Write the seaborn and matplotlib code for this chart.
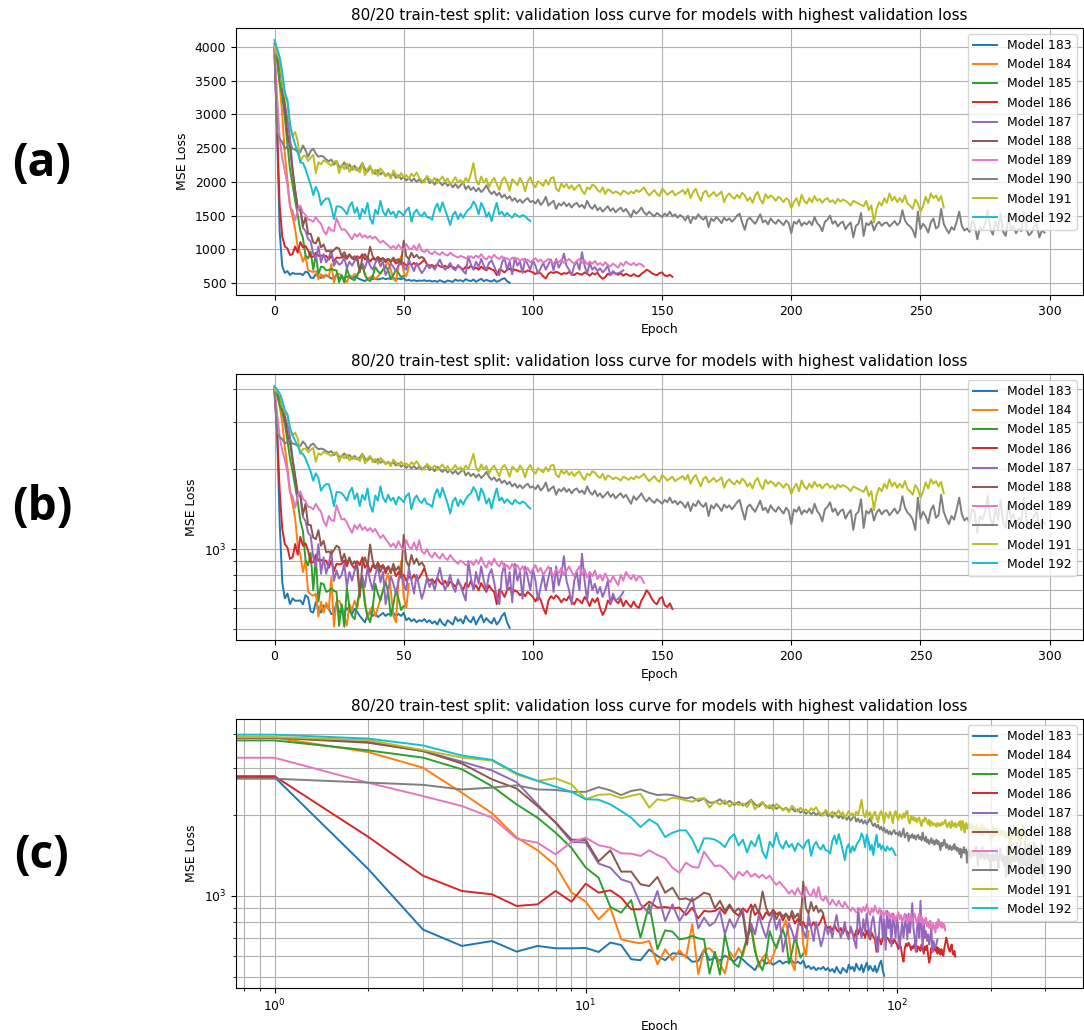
import numpy as np
import pandas as pd
import matplotlib
matplotlib.use("Agg")
import matplotlib.pyplot as plt
from matplotlib.ticker import NullFormatter
import seaborn as sns

# Validation MSE loss per epoch (index = epoch) for the ten worst models
models = ["Model 183", "Model 184", "Model 185", "Model 186", "Model 187",
          "Model 188", "Model 189", "Model 190", "Model 191", "Model 192"]

loss_183 = [3950, 2770, 1260, 750, 652, 680, 621, 652, 639, 639,
            641, 619, 671, 657, 582, 577, 632, 598, 577, 612,
            611, 598, 569, 573, 630, 577,
            590, 575, 600, 585, 570, 595, 580, 560, 545, 530,
            565, 580, 560, 570, 555, 565, 575, 560, 570, 565,
            575, 560, 570, 560, 575, 540, 550, 535, 545, 530,
            540, 535, 545, 530, 540, 525, 535, 520, 545, 525,
            515, 540, 530, 520, 555, 535, 545, 525, 560, 540,
            530, 555, 520, 545, 565, 530, 550, 535, 525, 550,
            520, 535, 560, 575, 530, 505]

loss_184 = [4050, 3880, 3430, 3000, 2420, 2030, 1650, 1480, 1300, 1030,
            953, 819, 905, 690, 676, 667, 680, 557, 634, 577,
            628, 590, 785, 511, 634, 639,
            610, 560, 515, 620, 590, 640, 600, 690, 780, 640,
            545, 590, 610, 560, 600, 650, 700, 760, 810, 700,
            560, 530, 760, 900, 660, 600, 740]

loss_185 = [3950, 3790, 3480, 3270, 2960, 2560, 2190, 1955, 1720, 1510,
            1275, 1170, 910, 867, 966, 700, 931, 634, 745, 737,
            690, 696, 710, 696, 690, 514,
            620, 510, 720, 600, 560, 545, 620, 700, 760, 620,
            560, 530, 600, 740, 680, 640, 700, 750, 690, 560,
            620, 700, 650, 590, 610]

loss_186 = [4000, 2790, 1660, 1190, 1044, 1014, 918, 931, 1044, 952,
            1111, 1029, 1050, 986, 892, 892, 953, 905, 910, 900,
            905, 850, 905, 826, 880, 875,
            880, 905, 860, 920, 870, 845, 900, 870, 930, 850,
            880, 820, 870, 845, 890, 855, 870, 810, 860, 830,
            845, 790, 820, 780, 800, 760, 790, 770, 800, 765,
            780, 810, 850, 780, 760, 770, 745, 780, 750, 735,
            760, 725, 755, 740, 720, 750, 730, 700, 745, 720,
            760, 710, 730, 700, 745, 715, 690, 730, 705, 690,
            620, 705, 690, 660, 700, 715, 680, 700, 690, 670,
            685, 665, 690, 675, 660, 635, 665, 645, 600, 570,
            640, 665, 650, 670, 655, 630, 650, 640, 665, 635,
            620, 650, 640, 625, 660, 640, 610, 650, 630, 655,
            600, 565, 590, 640, 620, 660, 640, 625, 650, 610,
            640, 620, 605, 635, 610, 600, 640, 665, 700, 680,
            650, 630, 620, 650, 660, 615, 605, 625, 595]

loss_187 = [4050, 3880, 3740, 3460, 3160, 2930, 2650, 2190, 1870, 1590,
            1580, 1320, 1274, 1153, 1121, 931, 860, 1044, 807, 931,
            807, 880, 986, 758, 831, 774,
            800, 880, 720, 820, 760, 830, 880, 700, 790, 720,
            850, 760, 700, 800, 860, 750, 820, 620, 700, 790,
            740, 680, 760, 820, 740, 700, 850, 760, 680, 800,
            720, 650, 700, 780, 720, 760, 700, 780, 850, 760,
            700, 740, 800, 720, 690, 770, 730, 680, 640, 900,
            780, 700, 820, 740, 860, 760, 700, 800, 840, 750,
            660, 620, 800, 880, 700, 820, 630, 880, 760, 820,
            650, 860, 780, 700, 840, 760, 640, 720, 800, 700,
            780, 850, 690, 860, 730, 800, 940, 760, 700, 620,
            760, 820, 700, 960, 760, 640, 800, 700, 740, 680,
            720, 660, 700, 760, 620, 680, 640, 650, 665, 690]

loss_188 = [3980, 3880, 3715, 3460, 3110, 2715, 2510, 2160, 1880, 1620,
            1615, 1345, 1479, 1232, 1232, 1105, 1089, 1177, 1029, 1074,
            972, 980, 958, 991, 1029, 1014,
            900, 960, 880, 930, 870, 900, 850, 660, 880, 930,
            860, 1040, 900, 850, 880, 820, 870, 840, 860, 810,
            880, 830, 860, 790, 1130, 900, 860, 950, 880, 920,
            870, 890, 860]

loss_189 = [4020, 3267, 2637, 2353, 2161, 1955, 1633, 1578, 1429, 1588,
            1648, 1545, 1513, 1441, 1437, 1409, 1479, 1420, 1380, 1274,
            1221, 1330, 1283, 1274, 1462, 1369,
            1290, 1300, 1260, 1200, 1150, 1230, 1190, 1240, 1180, 1210,
            1170, 1200, 1160, 1190, 1140, 1100, 1130, 1090, 1060, 1020,
            1050, 1010, 1070, 1020, 990, 1080, 1020, 1000, 1060, 990,
            1080, 980, 960, 1000, 950, 930, 970, 940, 920, 960,
            925, 910, 950, 920, 900, 880, 905, 890, 870, 880,
            900, 870, 910, 880, 930, 880, 850, 900, 870, 920,
            880, 860, 900, 850, 870, 840, 880, 850, 870, 830,
            860, 820, 850, 810, 840, 870, 820, 850, 800, 830,
            860, 820, 790, 840, 810, 850, 800, 830, 860, 820,
            790, 830, 860, 800, 840, 780, 820, 790, 830, 770,
            800, 760, 810, 770, 750, 790, 760, 730, 800, 760,
            820, 790, 770, 800, 760, 790, 780, 745]

loss_190 = [3880, 2730, 2640, 2590, 2490, 2530, 2580, 2490, 2480, 2440,
            2440, 2540, 2470, 2373, 2458, 2492, 2420, 2373, 2386, 2373,
            2333, 2306, 2333, 2254, 2306, 2223,
            2230, 2290, 2200, 2260, 2180, 2240, 2170, 2210, 2280, 2190,
            2150, 2220, 2160, 2120, 2180, 2110, 2150, 2090, 2130, 2080,
            2120, 2060, 2100, 2040, 2080, 2020, 2060, 2010, 2050, 2000,
            2040, 1990, 2030, 2070, 1980, 2010, 1960, 2040, 1990, 1950,
            2000, 1940, 1980, 1920, 1970, 1910, 1950, 2000, 1890, 1940,
            1880, 1920, 1860, 1910, 1850, 1890, 1950, 1870, 1820, 1860,
            1800, 1840, 1770, 1810, 1750, 1790, 1720, 1760, 1700, 1740,
            1690, 1730, 1760, 1700, 1720, 1680, 1740, 1660, 1700, 1780,
            1650, 1690, 1720, 1600, 1680, 1650, 1700, 1640, 1680, 1620,
            1670, 1690, 1630, 1660, 1610, 1720, 1640, 1600, 1660, 1580,
            1620, 1560, 1600, 1640, 1570, 1610, 1550, 1590, 1620, 1560,
            1600, 1540, 1480, 1580, 1530, 1570, 1620, 1550, 1510, 1560,
            1520, 1490, 1540, 1510, 1480, 1530, 1500, 1560, 1490, 1520,
            1470, 1510, 1480, 1430, 1500, 1390, 1480, 1450, 1520, 1470,
            1440, 1490, 1330, 1460, 1420, 1480, 1440, 1390, 1470, 1430,
            1460, 1410, 1450, 1500, 1530, 1400, 1290, 1440, 1470, 1420,
            1380, 1450, 1520, 1400, 1430, 1370, 1460, 1410, 1380, 1440,
            1400, 1360, 1430, 1390, 1240, 1410, 1380, 1440, 1350, 1400,
            1370, 1420, 1360, 1480, 1390, 1350, 1270, 1410, 1440, 1500,
            1380, 1420, 1340, 1390, 1410, 1300, 1360, 1400, 1180, 1350,
            1380, 1540, 1200, 1390, 1360, 1420, 1280, 1370, 1410, 1350,
            1390, 1400, 1340, 1380, 1420, 1360, 1400, 1580, 1430, 1370,
            1340, 1290, 1180, 1560, 1300, 1380, 1330, 1250, 1400, 1460,
            1310, 1340, 1600, 1380, 1300, 1240, 1330, 1290, 1410, 1560,
            1350, 1280, 1310, 1260, 1420, 1370, 1150, 1330, 1290, 1380,
            1580, 1310, 1220, 1420, 1290, 1530, 1260, 1200, 1470, 1300,
            1350, 1240, 1310, 1270, 1560, 1300, 1210, 1250, 1340, 1380,
            1180, 1280, 1250]

loss_191 = [4000, 3900, 3800, 3490, 3270, 3190, 2830, 2680, 2740, 2600,
            2290, 2380,
            2390, 2310, 2360, 2400, 2130, 2290, 2260, 2320, 2300, 2270,
            2240, 2300, 2310, 2130, 2250, 2190, 2270, 2150, 2230, 2180,
            2210, 2140, 2270, 2100, 2190, 2240, 2120, 2180, 2090, 2200,
            2150, 2080, 2120, 2050, 2170, 2110, 2060, 2130, 2070, 2100,
            2050, 2120, 2080, 2140, 2060, 2020, 1990, 2090, 2040, 2010,
            2060, 1980, 2030, 2080, 2000, 2050, 1960, 2010, 2070, 1990,
            2030, 1970, 2060, 2000, 2120, 2280, 2030, 1960, 2080, 1990,
            2050, 1920, 2010, 2060, 1970, 1880, 2020, 2070, 1990, 1870,
            2040, 2000, 1950, 2060, 1990, 1860, 2010, 2070, 1970, 1920,
            2010, 1980, 1940, 2030, 1960, 2060, 2070, 1900, 1860, 1980,
            1920, 1970, 1900, 1950, 1880, 1930, 1960, 1870, 1820, 1920,
            1890, 1960, 1940, 1880, 1850, 1920, 1820, 1890, 1870, 1830,
            1860, 1840, 1810, 1870, 1850, 1820, 1860, 1830, 1880, 1850,
            1880, 1920, 1850, 1800, 1840, 1880, 1820, 1790, 1900, 1860,
            1810, 1840, 1870, 1800, 1830, 1850, 1880, 1820, 1900, 1760,
            1850, 1900, 1800, 1720, 1840, 1870, 1780, 1810, 1850, 1790,
            1820, 1860, 1700, 1790, 1830, 1780, 1750, 1810, 1760, 1840,
            1800, 1720, 1770, 1690, 1800, 1850, 1740, 1680, 1820, 1760,
            1800, 1770, 1720, 1780, 1750, 1700, 1760, 1730, 1610, 1700,
            1760, 1650, 1810, 1720, 1680, 1760, 1700, 1790, 1720, 1750,
            1690, 1740, 1760, 1700, 1730, 1680, 1750, 1710, 1740, 1720,
            1690, 1650, 1720, 1700, 1680, 1660, 1640, 1720, 1580, 1650,
            1400, 1600, 1700, 1650, 1760, 1690, 1830, 1720, 1780, 1700,
            1760, 1700, 1800, 1680, 1650, 1600, 1740, 1680, 1560, 1640,
            1780, 1690, 1830, 1760, 1800, 1720, 1790, 1620]

loss_192 = [4100, 3980, 3850, 3630, 3330, 3210, 2860, 2680, 2550, 2440,
            2290, 2280, 2192, 2070, 1955, 1805, 1927, 1846, 1657, 1719,
            1754, 1754, 1624, 1449, 1637, 1637,
            1620, 1580, 1520, 1640, 1700, 1540, 1620, 1450, 1600, 1530,
            1690, 1460, 1380, 1590, 1520, 1720, 1560, 1500, 1600, 1520,
            1560, 1470, 1570, 1540, 1500, 1580, 1620, 1410, 1540, 1590,
            1520, 1490, 1550, 1480, 1470, 1440, 1600, 1680, 1560, 1700,
            1590, 1480, 1360, 1510, 1560, 1450, 1530, 1470, 1540, 1590,
            1620, 1710, 1650, 1520, 1690, 1610, 1480, 1550, 1420, 1570,
            1690, 1520, 1560, 1490, 1540, 1500, 1470, 1530, 1500, 1480,
            1510, 1490, 1450, 1420]

series = [loss_183, loss_184, loss_185, loss_186, loss_187,
          loss_188, loss_189, loss_190, loss_191, loss_192]

panel_tags = ["(a)", "(b)", "(c)"]
title = "80/20 train-test split: validation loss curve for models with highest validation loss"

# long-form table: one row per (model, epoch)
df = pd.concat(
    [pd.DataFrame({"Epoch": np.arange(len(vals)), "MSE Loss": vals, "Model": name})
     for name, vals in zip(models, series)],
    ignore_index=True,
)

plt.rcParams.update({
    "font.family": ["DejaVu Sans"],
    "font.size": 8.9,
    "axes.titlesize": 10.9,
    "axes.labelsize": 8.9,
    "xtick.labelsize": 8.9,
    "ytick.labelsize": 8.9,
    "legend.fontsize": 8.9,
    "grid.color": "#b0b0b0",
    "grid.linewidth": 0.8,
})

W, H = 1084, 1030
fig = plt.figure(figsize=(W / 100, H / 100), dpi=100)

# axes boxes in pixels: left, top, right, bottom
boxes = [(236, 28, 1083, 295), (236, 374, 1083, 640), (236, 719, 1083, 988)]
scales = [("linear", "linear"), ("linear", "log"), ("log", "log")]
tag_y = [163, 508, 855]

for (l, t, r, b), (xs, ys), tag, ty in zip(boxes, scales, panel_tags, tag_y):
    ax = fig.add_axes([l / W, 1 - b / H, (r - l) / W, (b - t) / H])
    sns.lineplot(data=df, x="Epoch", y="MSE Loss", hue="Model", hue_order=models,
                 palette="tab10", estimator=None, errorbar=None, linewidth=1.4, ax=ax)
    ax.set_xscale(xs)
    ax.set_yscale(ys)
    if ys == "log":
        ax.yaxis.set_minor_formatter(NullFormatter())
    if xs == "log":
        ax.xaxis.set_minor_formatter(NullFormatter())
    ax.grid(True, which="both" if ys == "log" else "major")
    ax.set_axisbelow(True)
    ax.set_title(title)
    sns.move_legend(ax, "upper right", title=None, frameon=True)
    fig.text(42 / W, 1 - ty / H, tag, ha="center", va="center",
             fontsize=33, fontweight="bold", family=["Open Sans", "DejaVu Sans"])

fig.savefig("out.png", dpi=100)
